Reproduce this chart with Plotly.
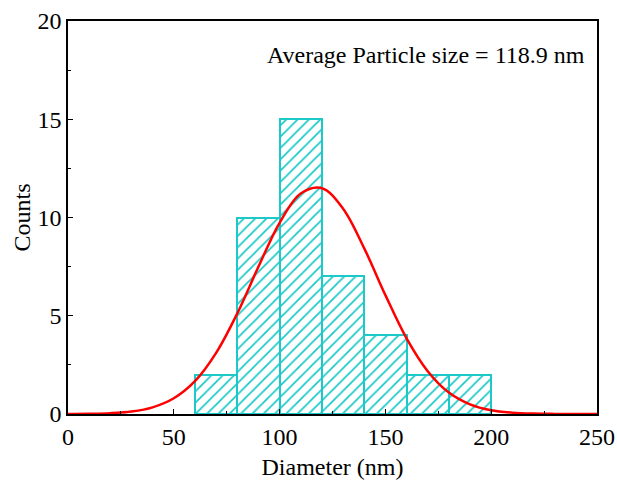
import plotly.graph_objects as go

# Histogram bins (left edges, width 20 nm) and counts
bin_left = [60, 80, 100, 120, 140, 160, 180]
bin_width = 20
counts = [2, 10, 15, 7, 4, 2, 2]

# Fitted distribution curve
curve_x = [0, 10, 20, 30, 40, 50, 60, 70, 80, 90, 100, 110, 120, 130, 140, 150,
           160, 170, 180, 190, 200, 210, 220, 230, 240, 250]
curve_y = [0.003, 0.013, 0.043, 0.128, 0.34, 0.80, 1.67, 3.11, 5.12, 7.49, 9.73,
           11.22, 11.49, 10.45, 8.43, 6.05, 3.85, 2.18, 1.09, 0.49, 0.19, 0.068,
           0.021, 0.006, 0.0015, 0.0004]

annotation_text = "Average Particle size = 118.9 nm"

cyan = "#1CC8C8"
font = "Liberation Serif, Times New Roman, serif"

fig = go.Figure()
fig.add_trace(go.Bar(
    x=[b + bin_width / 2 for b in bin_left],
    y=counts,
    width=bin_width,
    marker=dict(
        color="white",
        line=dict(color=cyan, width=2),
        pattern=dict(shape="/", fgcolor=cyan, bgcolor="white", size=8,
                     solidity=0.22, fillmode="replace"),
    ),
    showlegend=False,
))
fig.add_trace(go.Scatter(
    x=curve_x, y=curve_y, mode="lines",
    line=dict(color="#FF0000", width=2.5, shape="spline"),
    showlegend=False,
))

fig.add_annotation(
    x=0.981, y=0.913, xref="paper", yref="paper",
    xanchor="right", yanchor="middle",
    text=annotation_text, showarrow=False,
    font=dict(family=font, size=24, color="black"),
)

axis_common = dict(
    showgrid=False, zeroline=False, automargin=False,
    showline=True, linecolor="black", linewidth=1.5, mirror=True,
    ticks="inside", ticklen=5, tickwidth=1, tickcolor="black",
    tickfont=dict(family=font, size=24, color="black"),
)

fig.update_xaxes(
    range=[0, 250], dtick=50, tick0=0,
    minor=dict(dtick=25, ticks="inside", ticklen=3, tickcolor="black"),
    title=dict(text="Diameter (nm)", font=dict(family=font, size=24, color="black"), standoff=10),
    **axis_common,
)
fig.update_yaxes(
    range=[0, 20], dtick=5, tick0=0,
    minor=dict(dtick=2.5, ticks="inside", ticklen=3, tickcolor="black"),
    title=dict(text="Counts", font=dict(family=font, size=24, color="black"), standoff=0),
    **axis_common,
)

fig.update_layout(
    width=617, height=488,
    margin=dict(l=68, r=20, t=21, b=74),
    plot_bgcolor="white", paper_bgcolor="white",
    bargap=0,
)

fig.write_html(
    "out.html",
    config={"displayModeBar": False},
    post_script="document.body.style.margin='0';document.body.style.overflow='hidden';",
)
